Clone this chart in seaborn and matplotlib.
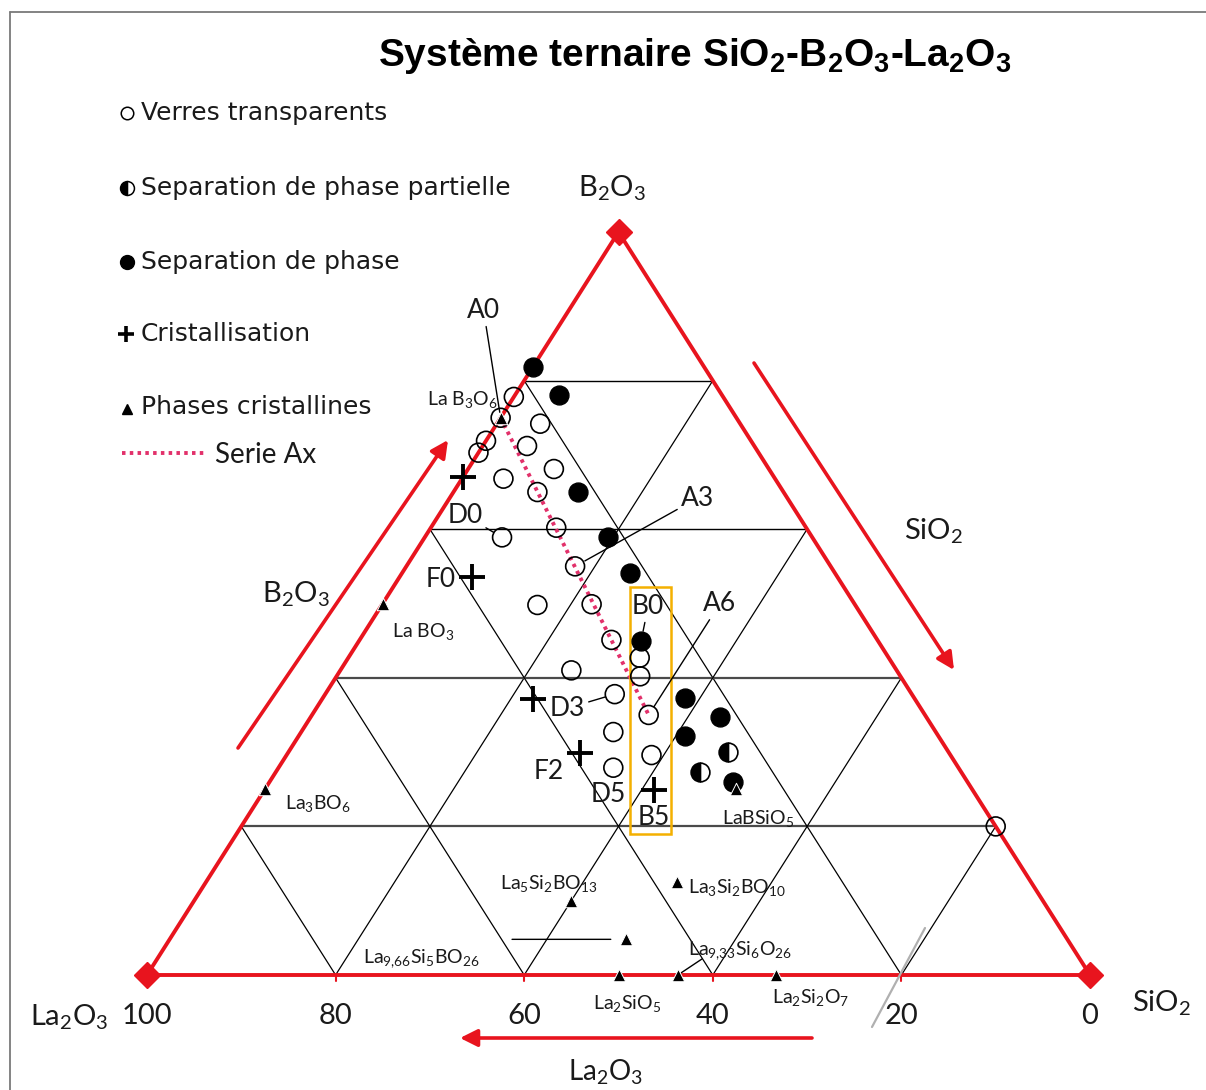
import numpy as np
import pandas as pd
import matplotlib
matplotlib.use("Agg")
import matplotlib.pyplot as plt
import matplotlib.transforms as mtransforms
from matplotlib.lines import Line2D
from matplotlib.patches import Rectangle
import seaborn as sns

# ---------------------------------------------------------------------------
# Compositions, mol %  (La2O3, SiO2, B2O3)
# ---------------------------------------------------------------------------
transparent_la = [22.2, 25.0, 21.2, 28.1, 29.7, 24.1, 22.8, 28.8, 26.1, 26.5, 32.9, 27.1,
                  33.7, 27.9, 28.2, 34.5, 26.4, 27.6, 31.5, 29.3, 34.2, 31.7, 36.6, 0.0]
transparent_si = [0.0, 0.0, 4.6, 0.0, 0.0, 4.7, 9.1, 4.4, 8.9, 13.3, 8.2, 17.9,
                  16.5, 22.2, 26.7, 24.5, 30.9, 32.2, 30.7, 35.7, 33.1, 38.7, 35.5, 80.0]
transparent_b = [77.8, 75.0, 74.2, 71.9, 70.3, 71.2, 68.1, 66.8, 65.0, 60.2, 58.9, 55.0,
                 49.8, 49.9, 45.1, 41.0, 42.7, 40.2, 37.8, 35.0, 32.7, 29.6, 27.9, 20.0]

separated_la = [18.2, 17.3, 21.8, 21.7, 21.7, 25.1, 24.3, 21.9, 26.8, 24.9]
separated_si = [0.0, 4.6, 13.2, 19.4, 24.2, 29.9, 38.4, 43.4, 41.0, 49.1]
separated_b = [81.8, 78.1, 65.0, 58.9, 54.1, 45.0, 37.3, 34.7, 32.2, 26.0]

partial_la = [23.4, 27.7]
partial_si = [46.6, 45.0]
partial_b = [30.0, 27.3]

crystal_la = [33.0, 38.7, 40.5, 39.1, 33.8]
crystal_si = [0.0, 7.7, 22.4, 31.0, 41.3]
crystal_b = [67.0, 53.6, 37.1, 29.9, 24.9]

phase_names = ["La B$_3$O$_6$", "La BO$_3$", "La$_3$BO$_6$", "La$_5$Si$_2$BO$_{13}$",
               "La$_3$Si$_2$BO$_{10}$", "La$_{9{,}66}$Si$_5$BO$_{26}$",
               "La$_{9{,}33}$Si$_6$O$_{26}$",
               "La$_2$SiO$_5$", "La$_2$Si$_2$O$_7$", "LaBSiO$_5$"]
phase_la = [25.0, 50.0, 75.0, 50.0, 37.5, 46.8, 43.7, 50.0, 33.3, 25.0]
phase_si = [0.0, 0.0, 0.0, 40.0, 50.0, 48.4, 56.3, 50.0, 66.7, 50.0]
phase_b = [75.0, 50.0, 25.0, 10.0, 12.5, 4.8, 0.0, 0.0, 0.0, 25.0]

# Serie Ax, from A0 to A6
series_ax_la = [25.0, 29.3]
series_ax_si = [0.0, 35.7]
series_ax_b = [75.0, 35.0]

sample_names = ["A0", "A3", "A6", "D0", "D3", "D5", "B0", "F0", "F2", "B5"]
sample_group = ["transparent", "transparent", "transparent", "transparent", "transparent",
                "transparent", "separated", "crystal", "crystal", "crystal"]
sample_index = [1, 11, 19, 10, 18, 22, 5, 1, 3, 4]

tick_values = [100, 80, 60, 40, 20, 0]
grid_levels = [20, 40, 60, 80]

# ---------------------------------------------------------------------------
# Style
# ---------------------------------------------------------------------------
sns.set_theme(style="white")
plt.rcParams["font.family"] = ["Lato", "DejaVu Sans"]
plt.rcParams["mathtext.fontset"] = "custom"
plt.rcParams["mathtext.default"] = "regular"

RED = "#e8141e"
PINK = "#e2306a"
INK = "#1a1a1a"

W, H = 1206, 1090
fig = plt.figure(figsize=(W / 100, H / 100), dpi=100)
fig.patch.set_facecolor("white")
ax = fig.add_axes([0, 0, 1, 1])
ax.set_axis_off()

# canvas pixels measured from the top-left corner
canvas = mtransforms.Affine2D().scale(1, -1).translate(0, H)

# triangle corners on the canvas
LEFT, RIGHT, BASE, APEX = 147.0, 1090.0, 975.0, 232.0
kx = (RIGHT - LEFT) / 100.0
ky = (BASE - APEX) / 100.0


def to_xy(si, b):
    si = np.asarray(si, float)
    b = np.asarray(b, float)
    return si + b / 2.0, b


def frame(la, si, b):
    x, y = to_xy(si, b)
    return pd.DataFrame({"La2O3": la, "SiO2": si, "B2O3": b, "x": x, "y": y})


groups = {
    "transparent": frame(transparent_la, transparent_si, transparent_b),
    "separated": frame(separated_la, separated_si, separated_b),
    "partial": frame(partial_la, partial_si, partial_b),
    "crystal": frame(crystal_la, crystal_si, crystal_b),
}
phases = frame(phase_la, phase_si, phase_b)
phases["name"] = phase_names

# ---------------------------------------------------------------------------
# Grid and triangle
# ---------------------------------------------------------------------------
for k in grid_levels:
    x, y = to_xy([0, 100 - k], [k, k])                      # constant B2O3
    if k <= 40:
        ax.plot(x, y, color="#4a4a4a", lw=1.6, zorder=1)
    else:
        ax.plot(x, y, color="black", lw=1.0, zorder=1)
    x, y = to_xy([k, k], [0, 100 - k])                      # constant SiO2
    ax.plot(x, y, color="black", lw=0.9, zorder=1)
    x, y = to_xy([100 - k, 0], [0, 100 - k])                # constant La2O3
    ax.plot(x, y, color="black", lw=0.9, zorder=1)
    # small tick under the base
    bx, _ = to_xy([100 - k], [0])
    ax.plot([bx[0], bx[0]], [0, -0.8], color=RED, lw=1.5, zorder=2)

x, y = to_xy([0, 100, 0, 0], [0, 0, 100, 0])
ax.plot(x, y, color=RED, lw=2.8, zorder=2, solid_joinstyle="miter")
x, y = to_xy([0, 100, 0], [0, 0, 100])
ax.plot(x, y, ls="none", marker="D", ms=13, color=RED, zorder=3)

# Serie Ax
x, y = to_xy(series_ax_si, series_ax_b)
ax.plot(x, y, color=PINK, lw=2.8, ls=(0, (0.9, 1.1)), zorder=4)

# ---------------------------------------------------------------------------
# Samples
# ---------------------------------------------------------------------------
sns.scatterplot(data=groups["transparent"], x="x", y="y", marker="o", s=185,
                color="black", facecolor="none", edgecolor="black", linewidth=1.2,
                ax=ax, zorder=6, legend=False)
sns.scatterplot(data=groups["separated"], x="x", y="y", marker="o", s=185,
                color="black", edgecolor="black", linewidth=1.0,
                ax=ax, zorder=6, legend=False)
ax.plot(groups["partial"]["x"], groups["partial"]["y"], ls="none", marker="o", ms=13.5,
        fillstyle="left", markerfacecolor="black", markerfacecoloralt="white",
        markeredgecolor="black", markeredgewidth=1.2, zorder=6)
sns.scatterplot(data=groups["crystal"], x="x", y="y", marker="+", s=330,
                color="black", linewidth=2.8, ax=ax, zorder=7, legend=False)
sns.scatterplot(data=phases, x="x", y="y", marker="^", s=80,
                color="black", edgecolor="white", linewidth=0.7,
                ax=ax, zorder=8, legend=False)

# sample names: offset in pixels, leader line, shrink at the point
sample_layout = {
    "A0": (-17, 107, True, 4),
    "A3": (122, 68, True, 8),
    "A6": (71, 111, True, 7),
    "D0": (-37, 22, True, 7),
    "D3": (-47, -14, True, 7),
    "D5": (-5, -27, False, 0),
    "B0": (7, 34, True, 7),
    "F0": (-32, -3, False, 0),
    "F2": (-32, -19, False, 0),
    "B5": (0, -28, False, 0),
}
for name, grp, idx in zip(sample_names, sample_group, sample_index):
    row = groups[grp].iloc[idx]
    dx, dy, leader, shrink = sample_layout[name]
    arrow = None
    if leader:
        arrow = dict(arrowstyle="-", lw=1.0, color="black", shrinkA=0, shrinkB=shrink)
    ax.annotate(name, xy=(row.x, row.y), xytext=(dx, dy), textcoords="offset pixels",
                ha="center", va="center", fontsize=19, color=INK, arrowprops=arrow,
                zorder=9)

# crystalline phase names
phase_layout = [
    (-3, 18, "right"), (9, -28, "left"), (20, -14, "left"), (-71, 17, "left"),
    (11, -5, "left"), (-263, -19, "left"), (10, 24, "left"), (9, -28, "center"),
    (35, -23, "center"), (22, -29, "center"),
]
for (_, row), (dx, dy, ha) in zip(phases.iterrows(), phase_layout):
    ax.annotate(row["name"], xy=(row.x, row.y), xytext=(dx, dy), textcoords="offset pixels",
                ha=ha, va="center", fontsize=14, color=INK, zorder=9)

# leader lines of the two silicates near the base
r = phases.iloc[5]
ax.annotate("", xy=(r.x, r.y), xytext=(-114, 0), textcoords="offset pixels",
            arrowprops=dict(arrowstyle="-", lw=1.0, color="black", shrinkA=0, shrinkB=11))
r = phases.iloc[6]
ax.annotate("", xy=(r.x, r.y), xytext=(24, 16), textcoords="offset pixels",
            arrowprops=dict(arrowstyle="-", lw=1.0, color="black", shrinkA=0, shrinkB=3))

# orange frame around the B series
ax.add_patch(Rectangle((630, 587), 41, 247, transform=canvas, fill=False,
                       edgecolor="#f4b000", lw=1.8, zorder=5))

# ---------------------------------------------------------------------------
# Axes texts and arrows
# ---------------------------------------------------------------------------
for v in tick_values:
    bx, by = to_xy([100 - v], [0])
    ax.annotate(str(v), xy=(bx[0], by[0]), xytext=(0, -41), textcoords="offset pixels",
                ha="center", va="center", fontsize=21, color=INK)

ax.text(69, 1017, "La$_2$O$_3$", transform=canvas, ha="center", va="center",
        fontsize=21, color=INK)
ax.text(612, 188, "B$_2$O$_3$", transform=canvas, ha="center", va="center",
        fontsize=21, color=INK)
ax.text(933, 531, "SiO$_2$", transform=canvas, ha="center", va="center",
        fontsize=21, color=INK)
ax.text(296, 594, "B$_2$O$_3$", transform=canvas, ha="center", va="center",
        fontsize=21, color=INK)
ax.text(1161, 1003, "SiO$_2$", transform=canvas, ha="center", va="center",
        fontsize=21, color=INK)
ax.text(606, 1072, "La$_2$O$_3$", transform=canvas, ha="center", va="center",
        fontsize=20, color=INK)

arrow_kw = dict(arrowstyle="-|>", color=RED, lw=2.6, mutation_scale=26,
                shrinkA=0, shrinkB=0)
for tail, head in [((238, 748), (448, 440)), ((754, 363), (954, 670)),
                   ((812, 1038), (460, 1038))]:
    ax.annotate("", xy=head, xycoords=canvas, xytext=tail, textcoords=canvas,
                arrowprops=arrow_kw)

ax.add_line(Line2D([872, 925], [1027, 928], transform=canvas, color="#b0b0b0", lw=1.6))

# ---------------------------------------------------------------------------
# Title and key
# ---------------------------------------------------------------------------
ax.text(695, 56, "Système ternaire SiO$_2$-B$_2$O$_3$-La$_2$O$_3$", transform=canvas,
        ha="center", va="center", fontsize=28, fontweight="bold",
        family=["Liberation Sans", "DejaVu Sans"], color="black")

key_rows = [
    (113, "Verres transparents"),
    (188, "Separation de phase partielle"),
    (262, "Separation de phase"),
    (334, "Cristallisation"),
    (407, "Phases cristallines"),
]
for yk, label in key_rows:
    ax.text(141, yk, label, transform=canvas, ha="left", va="center", fontsize=18,
            family=["DejaVu Sans"], color=INK)

ax.add_line(Line2D([127], [113], transform=canvas, ls="none", marker="o", ms=9,
                   markerfacecolor="none", markeredgecolor="black", markeredgewidth=1.1))
ax.add_line(Line2D([127], [188], transform=canvas, ls="none", marker="o", ms=10,
                   fillstyle="left", markerfacecolor="black", markerfacecoloralt="white",
                   markeredgecolor="black", markeredgewidth=1.1))
ax.add_line(Line2D([127], [262], transform=canvas, ls="none", marker="o", ms=10,
                   color="black"))
ax.add_line(Line2D([126], [334], transform=canvas, ls="none", marker="+", ms=11,
                   markeredgewidth=2.6, color="black"))
ax.add_line(Line2D([127], [409], transform=canvas, ls="none", marker="^", ms=7,
                   color="black"))
ax.add_line(Line2D([122, 205], [453, 453], transform=canvas, color=PINK, lw=2.8,
                   ls=(0, (0.9, 1.1))))
ax.text(215, 455, "Serie Ax", transform=canvas, ha="left", va="center", fontsize=20,
        color=INK)

# page frame
fig.add_artist(Line2D([10, W + 5], [12, 12], transform=canvas, color="#7a7a7a", lw=1.3))
fig.add_artist(Line2D([10, 10], [12, H + 5], transform=canvas, color="#7a7a7a", lw=1.3))

ax.set_xlim(-LEFT / kx, (W - LEFT) / kx)
ax.set_ylim((BASE - H) / ky, BASE / ky)

fig.savefig("out.png", dpi=100, facecolor="white")
